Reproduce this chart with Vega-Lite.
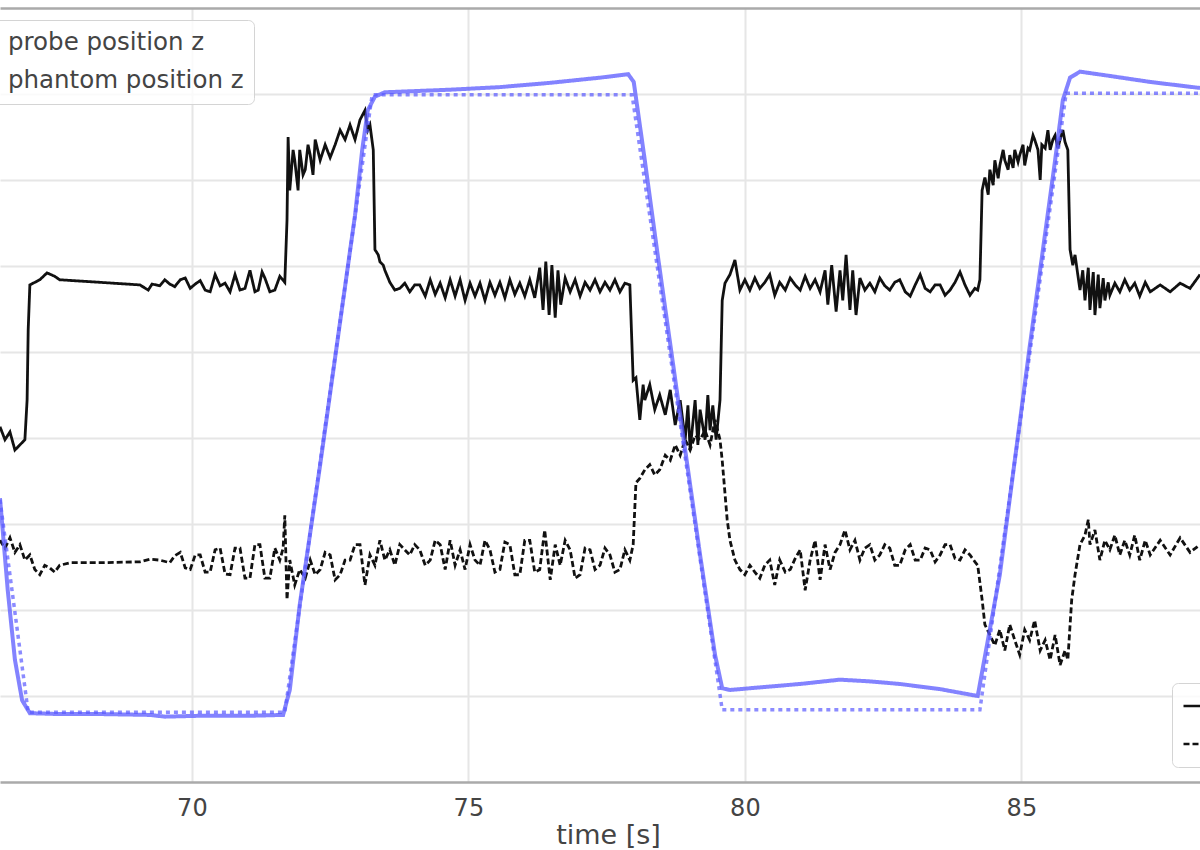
{
  "$schema": "https://vega.github.io/schema/vega-lite/v6.json",
  "width": 1200,
  "height": 774,
  "autosize": {"type": "none"},
  "padding": {"left": 0, "top": 8, "right": 0, "bottom": 68},
  "background": "white",
  "config": {
    "view": {"stroke": null},
    "font": "DejaVu Sans"
  },
  "datasets": {
    "probe_pos": [
      {"t":66.53,"v":3.30},{"t":66.67,"v":2.23},{"t":66.80,"v":1.42},{"t":66.93,"v":0.95},{"t":67.07,"v":0.80},
      {"t":67.61,"v":0.79},{"t":68.34,"v":0.79},{"t":69.24,"v":0.78},{"t":69.51,"v":0.76},{"t":70.15,"v":0.77},
      {"t":71.05,"v":0.77},{"t":71.65,"v":0.78},{"t":71.77,"v":1.07},{"t":71.95,"v":2.06},{"t":72.32,"v":3.69},
      {"t":72.68,"v":5.35},{"t":72.95,"v":6.59},{"t":73.08,"v":7.35},{"t":73.18,"v":7.81},{"t":73.31,"v":7.97},
      {"t":73.49,"v":8.02},{"t":74.67,"v":8.05},{"t":75.57,"v":8.08},{"t":76.48,"v":8.13},{"t":77.38,"v":8.19},
      {"t":77.89,"v":8.23},{"t":77.99,"v":8.14},{"t":78.19,"v":7.23},{"t":78.41,"v":6.19},{"t":78.83,"v":4.27},
      {"t":79.19,"v":2.64},{"t":79.46,"v":1.48},{"t":79.59,"v":1.09},{"t":79.73,"v":1.07},{"t":80.27,"v":1.10},
      {"t":81.00,"v":1.14},{"t":81.72,"v":1.19},{"t":82.26,"v":1.17},{"t":82.80,"v":1.14},{"t":83.53,"v":1.08},
      {"t":84.21,"v":1.00},{"t":84.61,"v":2.41},{"t":85.15,"v":5.06},{"t":85.61,"v":7.23},{"t":85.75,"v":7.93},
      {"t":85.88,"v":8.19},{"t":86.06,"v":8.26},{"t":86.60,"v":8.21},{"t":87.33,"v":8.14},{"t":88.23,"v":8.07}
    ],
    "phantom_pos": [
      {"t":66.53,"v":3.28},{"t":67.04,"v":0.81},{"t":71.68,"v":0.81},{"t":73.26,"v":7.99},{"t":77.96,"v":7.99},
      {"t":79.59,"v":0.84},{"t":84.25,"v":0.84},{"t":85.81,"v":8.01},{"t":88.23,"v":8.01}
    ],
    "probe_force": [
      {"t":66.53,"v":4.13},{"t":66.62,"v":3.98},{"t":66.71,"v":4.07},{"t":66.80,"v":3.86},{"t":66.89,"v":3.92},
      {"t":66.98,"v":3.98},{"t":67.02,"v":4.44},{"t":67.04,"v":5.26},{"t":67.07,"v":5.78},{"t":67.25,"v":5.84},
      {"t":67.38,"v":5.92},{"t":67.52,"v":5.88},{"t":67.61,"v":5.84},{"t":68.34,"v":5.81},{"t":69.06,"v":5.78},
      {"t":69.21,"v":5.72},{"t":69.28,"v":5.79},{"t":69.42,"v":5.77},{"t":69.51,"v":5.84},{"t":69.60,"v":5.79},
      {"t":69.69,"v":5.76},{"t":69.79,"v":5.84},{"t":69.88,"v":5.86},{"t":69.97,"v":5.74},{"t":70.06,"v":5.79},
      {"t":70.15,"v":5.83},{"t":70.24,"v":5.72},{"t":70.33,"v":5.70},{"t":70.42,"v":5.90},{"t":70.51,"v":5.77},
      {"t":70.60,"v":5.80},{"t":70.69,"v":5.70},{"t":70.78,"v":5.90},{"t":70.87,"v":5.72},{"t":70.96,"v":5.74},
      {"t":71.05,"v":5.95},{"t":71.14,"v":5.70},{"t":71.20,"v":5.72},{"t":71.27,"v":5.93},{"t":71.32,"v":5.86},
      {"t":71.41,"v":5.70},{"t":71.50,"v":5.72},{"t":71.59,"v":5.88},{"t":71.68,"v":5.81},{"t":71.72,"v":6.53},
      {"t":71.74,"v":7.50},{"t":71.77,"v":6.88},{"t":71.83,"v":7.35},{"t":71.86,"v":7.23},{"t":71.92,"v":6.88},
      {"t":71.95,"v":7.35},{"t":72.01,"v":7.06},{"t":72.05,"v":7.12},{"t":72.10,"v":7.41},{"t":72.14,"v":7.29},
      {"t":72.19,"v":7.06},{"t":72.23,"v":7.47},{"t":72.32,"v":7.23},{"t":72.41,"v":7.41},{"t":72.50,"v":7.26},
      {"t":72.59,"v":7.41},{"t":72.68,"v":7.58},{"t":72.77,"v":7.47},{"t":72.86,"v":7.64},{"t":72.95,"v":7.47},
      {"t":73.04,"v":7.70},{"t":73.13,"v":7.81},{"t":73.18,"v":7.58},{"t":73.22,"v":7.64},{"t":73.28,"v":7.35},
      {"t":73.31,"v":6.19},{"t":73.37,"v":6.13},{"t":73.40,"v":6.05},{"t":73.46,"v":6.01},{"t":73.49,"v":5.95},
      {"t":73.58,"v":5.81},{"t":73.67,"v":5.72},{"t":73.76,"v":5.74},{"t":73.85,"v":5.80},{"t":73.94,"v":5.70},
      {"t":74.03,"v":5.78},{"t":74.12,"v":5.78},{"t":74.22,"v":5.65},{"t":74.31,"v":5.84},{"t":74.40,"v":5.67},
      {"t":74.49,"v":5.80},{"t":74.58,"v":5.63},{"t":74.67,"v":5.84},{"t":74.76,"v":5.65},{"t":74.85,"v":5.84},
      {"t":74.94,"v":5.60},{"t":75.03,"v":5.80},{"t":75.12,"v":5.65},{"t":75.21,"v":5.80},{"t":75.30,"v":5.60},
      {"t":75.39,"v":5.81},{"t":75.48,"v":5.66},{"t":75.57,"v":5.81},{"t":75.66,"v":5.63},{"t":75.75,"v":5.84},
      {"t":75.84,"v":5.67},{"t":75.93,"v":5.80},{"t":76.02,"v":5.65},{"t":76.11,"v":5.84},{"t":76.20,"v":5.63},
      {"t":76.29,"v":5.98},{"t":76.35,"v":5.49},{"t":76.40,"v":6.05},{"t":76.46,"v":5.43},{"t":76.51,"v":6.01},
      {"t":76.57,"v":5.40},{"t":76.62,"v":5.95},{"t":76.67,"v":5.55},{"t":76.75,"v":5.86},{"t":76.84,"v":5.70},
      {"t":76.93,"v":5.84},{"t":77.02,"v":5.65},{"t":77.11,"v":5.81},{"t":77.20,"v":5.72},{"t":77.29,"v":5.84},
      {"t":77.38,"v":5.70},{"t":77.47,"v":5.81},{"t":77.56,"v":5.72},{"t":77.65,"v":5.84},{"t":77.74,"v":5.70},
      {"t":77.83,"v":5.80},{"t":77.92,"v":5.78},{"t":77.98,"v":4.67},{"t":78.03,"v":4.70},{"t":78.10,"v":4.21},
      {"t":78.16,"v":4.62},{"t":78.19,"v":4.44},{"t":78.28,"v":4.62},{"t":78.37,"v":4.33},{"t":78.46,"v":4.50},
      {"t":78.56,"v":4.27},{"t":78.65,"v":4.56},{"t":78.74,"v":4.15},{"t":78.83,"v":4.44},{"t":78.92,"v":3.98},
      {"t":78.97,"v":4.38},{"t":79.01,"v":3.86},{"t":79.10,"v":4.44},{"t":79.15,"v":3.92},{"t":79.19,"v":4.33},
      {"t":79.28,"v":3.98},{"t":79.33,"v":4.50},{"t":79.37,"v":4.09},{"t":79.42,"v":4.38},{"t":79.48,"v":3.98},
      {"t":79.55,"v":4.44},{"t":79.59,"v":5.60},{"t":79.64,"v":5.80},{"t":79.73,"v":5.90},{"t":79.82,"v":6.07},
      {"t":79.91,"v":5.72},{"t":80.00,"v":5.84},{"t":80.09,"v":5.72},{"t":80.18,"v":5.86},{"t":80.27,"v":5.74},
      {"t":80.36,"v":5.81},{"t":80.45,"v":5.90},{"t":80.54,"v":5.66},{"t":80.63,"v":5.81},{"t":80.73,"v":5.72},
      {"t":80.82,"v":5.86},{"t":80.91,"v":5.78},{"t":81.00,"v":5.72},{"t":81.09,"v":5.88},{"t":81.18,"v":5.74},
      {"t":81.27,"v":5.84},{"t":81.36,"v":5.70},{"t":81.45,"v":5.95},{"t":81.50,"v":5.55},{"t":81.57,"v":6.01},
      {"t":81.65,"v":5.47},{"t":81.72,"v":5.95},{"t":81.77,"v":5.60},{"t":81.83,"v":6.13},{"t":81.90,"v":5.49},
      {"t":81.95,"v":5.95},{"t":82.01,"v":5.43},{"t":82.08,"v":5.86},{"t":82.17,"v":5.72},{"t":82.26,"v":5.80},
      {"t":82.35,"v":5.70},{"t":82.44,"v":5.86},{"t":82.53,"v":5.77},{"t":82.62,"v":5.72},{"t":82.71,"v":5.81},
      {"t":82.80,"v":5.84},{"t":82.90,"v":5.70},{"t":82.99,"v":5.65},{"t":83.08,"v":5.78},{"t":83.17,"v":5.90},
      {"t":83.26,"v":5.74},{"t":83.35,"v":5.70},{"t":83.44,"v":5.78},{"t":83.53,"v":5.78},{"t":83.62,"v":5.66},
      {"t":83.71,"v":5.72},{"t":83.80,"v":5.81},{"t":83.89,"v":5.93},{"t":83.98,"v":5.78},{"t":84.07,"v":5.66},
      {"t":84.16,"v":5.74},{"t":84.21,"v":5.72},{"t":84.25,"v":5.84},{"t":84.29,"v":6.88},{"t":84.34,"v":7.03},
      {"t":84.40,"v":6.83},{"t":84.43,"v":7.12},{"t":84.49,"v":6.94},{"t":84.52,"v":7.23},{"t":84.58,"v":7.02},
      {"t":84.61,"v":7.17},{"t":84.67,"v":7.35},{"t":84.70,"v":7.23},{"t":84.76,"v":7.12},{"t":84.79,"v":7.29},
      {"t":84.85,"v":7.14},{"t":84.88,"v":7.35},{"t":84.94,"v":7.21},{"t":84.97,"v":7.29},{"t":85.03,"v":7.41},
      {"t":85.06,"v":7.17},{"t":85.12,"v":7.37},{"t":85.15,"v":7.35},{"t":85.21,"v":7.52},{"t":85.24,"v":7.47},
      {"t":85.30,"v":7.35},{"t":85.34,"v":7.00},{"t":85.37,"v":7.41},{"t":85.43,"v":7.37},{"t":85.48,"v":7.58},
      {"t":85.52,"v":7.35},{"t":85.57,"v":7.47},{"t":85.61,"v":7.52},{"t":85.66,"v":7.37},{"t":85.70,"v":7.47},
      {"t":85.75,"v":7.58},{"t":85.79,"v":7.44},{"t":85.84,"v":7.35},{"t":85.88,"v":6.19},{"t":85.93,"v":6.01},
      {"t":85.97,"v":6.13},{"t":86.02,"v":5.90},{"t":86.06,"v":5.72},{"t":86.11,"v":5.95},{"t":86.15,"v":5.60},
      {"t":86.21,"v":5.98},{"t":86.24,"v":5.49},{"t":86.30,"v":5.93},{"t":86.33,"v":5.43},{"t":86.39,"v":5.90},
      {"t":86.42,"v":5.51},{"t":86.48,"v":5.86},{"t":86.51,"v":5.60},{"t":86.57,"v":5.81},{"t":86.60,"v":5.66},
      {"t":86.69,"v":5.80},{"t":86.78,"v":5.70},{"t":86.87,"v":5.84},{"t":86.96,"v":5.72},{"t":87.05,"v":5.80},
      {"t":87.14,"v":5.65},{"t":87.24,"v":5.81},{"t":87.33,"v":5.70},{"t":87.51,"v":5.78},{"t":87.69,"v":5.70},
      {"t":87.87,"v":5.80},{"t":88.05,"v":5.74},{"t":88.23,"v":5.90}
    ],
    "phantom_force": [
      {"t":66.53,"v":2.81},{"t":66.62,"v":2.72},{"t":66.71,"v":2.84},{"t":66.80,"v":2.67},{"t":66.89,"v":2.76},
      {"t":66.98,"v":2.58},{"t":67.07,"v":2.64},{"t":67.16,"v":2.47},{"t":67.25,"v":2.41},{"t":67.34,"v":2.52},
      {"t":67.43,"v":2.49},{"t":67.52,"v":2.44},{"t":67.61,"v":2.52},{"t":67.80,"v":2.55},{"t":68.34,"v":2.55},
      {"t":69.06,"v":2.56},{"t":69.24,"v":2.59},{"t":69.42,"v":2.58},{"t":69.60,"v":2.55},{"t":69.69,"v":2.63},
      {"t":69.79,"v":2.67},{"t":69.88,"v":2.49},{"t":69.97,"v":2.47},{"t":70.06,"v":2.64},{"t":70.15,"v":2.64},
      {"t":70.24,"v":2.44},{"t":70.33,"v":2.44},{"t":70.42,"v":2.70},{"t":70.51,"v":2.72},{"t":70.60,"v":2.42},
      {"t":70.69,"v":2.41},{"t":70.78,"v":2.72},{"t":70.87,"v":2.72},{"t":70.96,"v":2.37},{"t":71.05,"v":2.37},
      {"t":71.14,"v":2.76},{"t":71.23,"v":2.76},{"t":71.32,"v":2.37},{"t":71.41,"v":2.37},{"t":71.50,"v":2.72},
      {"t":71.59,"v":2.58},{"t":71.65,"v":2.72},{"t":71.68,"v":3.10},{"t":71.72,"v":2.12},{"t":71.77,"v":2.58},
      {"t":71.86,"v":2.29},{"t":71.95,"v":2.47},{"t":72.05,"v":2.37},{"t":72.14,"v":2.58},{"t":72.23,"v":2.41},
      {"t":72.32,"v":2.47},{"t":72.41,"v":2.67},{"t":72.50,"v":2.64},{"t":72.59,"v":2.35},{"t":72.68,"v":2.41},
      {"t":72.77,"v":2.58},{"t":72.86,"v":2.58},{"t":72.95,"v":2.76},{"t":73.04,"v":2.76},{"t":73.13,"v":2.29},
      {"t":73.22,"v":2.64},{"t":73.31,"v":2.52},{"t":73.40,"v":2.81},{"t":73.49,"v":2.58},{"t":73.58,"v":2.70},
      {"t":73.67,"v":2.52},{"t":73.76,"v":2.76},{"t":73.85,"v":2.70},{"t":73.94,"v":2.64},{"t":74.03,"v":2.76},
      {"t":74.12,"v":2.70},{"t":74.22,"v":2.52},{"t":74.31,"v":2.58},{"t":74.40,"v":2.81},{"t":74.49,"v":2.76},
      {"t":74.58,"v":2.47},{"t":74.67,"v":2.81},{"t":74.76,"v":2.52},{"t":74.85,"v":2.70},{"t":74.94,"v":2.47},
      {"t":75.03,"v":2.76},{"t":75.12,"v":2.58},{"t":75.21,"v":2.52},{"t":75.30,"v":2.81},{"t":75.39,"v":2.70},
      {"t":75.48,"v":2.44},{"t":75.57,"v":2.47},{"t":75.66,"v":2.79},{"t":75.75,"v":2.76},{"t":75.84,"v":2.41},
      {"t":75.93,"v":2.41},{"t":76.02,"v":2.81},{"t":76.11,"v":2.81},{"t":76.20,"v":2.44},{"t":76.29,"v":2.47},
      {"t":76.38,"v":2.93},{"t":76.48,"v":2.35},{"t":76.57,"v":2.76},{"t":76.66,"v":2.52},{"t":76.75,"v":2.81},
      {"t":76.84,"v":2.70},{"t":76.93,"v":2.37},{"t":77.02,"v":2.41},{"t":77.11,"v":2.72},{"t":77.20,"v":2.70},
      {"t":77.29,"v":2.47},{"t":77.38,"v":2.52},{"t":77.47,"v":2.72},{"t":77.56,"v":2.64},{"t":77.65,"v":2.44},
      {"t":77.74,"v":2.47},{"t":77.83,"v":2.70},{"t":77.92,"v":2.58},{"t":77.98,"v":2.76},{"t":78.03,"v":3.48},
      {"t":78.10,"v":3.53},{"t":78.19,"v":3.63},{"t":78.28,"v":3.69},{"t":78.37,"v":3.57},{"t":78.46,"v":3.63},
      {"t":78.56,"v":3.80},{"t":78.65,"v":3.74},{"t":78.74,"v":3.92},{"t":78.83,"v":3.80},{"t":78.92,"v":3.98},
      {"t":79.01,"v":3.86},{"t":79.10,"v":4.03},{"t":79.19,"v":3.98},{"t":79.28,"v":4.09},{"t":79.37,"v":3.92},
      {"t":79.46,"v":4.21},{"t":79.55,"v":3.98},{"t":79.59,"v":3.74},{"t":79.62,"v":3.51},{"t":79.68,"v":3.05},
      {"t":79.73,"v":2.81},{"t":79.82,"v":2.58},{"t":79.91,"v":2.47},{"t":80.00,"v":2.41},{"t":80.09,"v":2.52},
      {"t":80.18,"v":2.44},{"t":80.27,"v":2.37},{"t":80.36,"v":2.52},{"t":80.45,"v":2.58},{"t":80.54,"v":2.29},
      {"t":80.63,"v":2.58},{"t":80.73,"v":2.44},{"t":80.82,"v":2.47},{"t":80.91,"v":2.60},{"t":81.00,"v":2.70},
      {"t":81.09,"v":2.23},{"t":81.18,"v":2.58},{"t":81.27,"v":2.81},{"t":81.36,"v":2.35},{"t":81.45,"v":2.76},
      {"t":81.54,"v":2.47},{"t":81.63,"v":2.67},{"t":81.72,"v":2.76},{"t":81.81,"v":2.93},{"t":81.90,"v":2.70},
      {"t":81.99,"v":2.81},{"t":82.08,"v":2.58},{"t":82.17,"v":2.72},{"t":82.26,"v":2.76},{"t":82.35,"v":2.58},
      {"t":82.44,"v":2.64},{"t":82.53,"v":2.76},{"t":82.62,"v":2.72},{"t":82.71,"v":2.52},{"t":82.80,"v":2.52},
      {"t":82.90,"v":2.70},{"t":82.99,"v":2.76},{"t":83.08,"v":2.58},{"t":83.17,"v":2.58},{"t":83.26,"v":2.72},
      {"t":83.35,"v":2.70},{"t":83.44,"v":2.56},{"t":83.53,"v":2.64},{"t":83.62,"v":2.76},{"t":83.71,"v":2.76},
      {"t":83.80,"v":2.60},{"t":83.89,"v":2.58},{"t":83.98,"v":2.70},{"t":84.07,"v":2.64},{"t":84.16,"v":2.56},
      {"t":84.21,"v":2.52},{"t":84.29,"v":2.12},{"t":84.34,"v":1.83},{"t":84.43,"v":1.71},{"t":84.52,"v":1.59},
      {"t":84.61,"v":1.77},{"t":84.70,"v":1.53},{"t":84.79,"v":1.83},{"t":84.88,"v":1.65},{"t":84.97,"v":1.48},
      {"t":85.06,"v":1.77},{"t":85.15,"v":1.65},{"t":85.24,"v":1.88},{"t":85.34,"v":1.53},{"t":85.43,"v":1.65},
      {"t":85.52,"v":1.42},{"t":85.61,"v":1.71},{"t":85.70,"v":1.36},{"t":85.79,"v":1.53},{"t":85.84,"v":1.42},
      {"t":85.91,"v":2.12},{"t":85.97,"v":2.41},{"t":86.06,"v":2.76},{"t":86.15,"v":2.87},{"t":86.21,"v":3.05},
      {"t":86.24,"v":2.76},{"t":86.33,"v":2.93},{"t":86.42,"v":2.58},{"t":86.51,"v":2.81},{"t":86.60,"v":2.70},
      {"t":86.69,"v":2.87},{"t":86.78,"v":2.64},{"t":86.87,"v":2.81},{"t":86.96,"v":2.64},{"t":87.05,"v":2.87},
      {"t":87.14,"v":2.58},{"t":87.24,"v":2.81},{"t":87.33,"v":2.64},{"t":87.51,"v":2.81},{"t":87.69,"v":2.64},
      {"t":87.87,"v":2.84},{"t":88.05,"v":2.67},{"t":88.23,"v":2.76}
    ]
  },
  "encoding": {
    "x": {
      "field": "t",
      "type": "quantitative",
      "scale": {"domain": [66.53, 88.23], "nice": false, "zero": false},
      "axis": {
        "values": [70, 75, 80, 85],
        "grid": true,
        "gridColor": "#e6e6e6",
        "gridWidth": 2,
        "domain": false,
        "ticks": false,
        "labelFontSize": 24,
        "labelColor": "#444444",
        "labelPadding": 14,
        "title": "time [s]",
        "titleFontSize": 27,
        "titleFontWeight": "normal",
        "titleColor": "#444444",
        "titlePadding": 2,
        "titleX": 608
      }
    },
    "y": {
      "field": "v",
      "type": "quantitative",
      "scale": {"domain": [0, 9], "nice": false, "zero": false},
      "axis": {
        "values": [0, 1, 2, 3, 4, 5, 6, 7, 8, 9],
        "grid": true,
        "gridColor": {"condition": {"test": "datum.value == 0 || datum.value == 9", "value": "#aaaaaa"}, "value": "#e6e6e6"},
        "gridWidth": {"condition": {"test": "datum.value == 0 || datum.value == 9", "value": 2.5}, "value": 2},
        "labels": false,
        "ticks": false,
        "domain": false,
        "title": null
      }
    }
  },
  "layer": [
    {
      "layer": [
        {
          "data": {"name": "probe_force"},
          "mark": {"type": "line", "color": "#111111", "strokeWidth": 2.8, "clip": true},
          "encoding": {
            "strokeDash": {
              "datum": "probe force z",
              "type": "nominal",
              "scale": {"domain": ["probe force z", "phantom force z"], "range": [[1, 0], [6, 3]]},
              "legend": {
                "title": null,
                "orient": "none",
                "legendX": 1172,
                "legendY": 675,
                "padding": 10,
                "fillColor": "rgba(255,255,255,0.8)",
                "strokeColor": "#d4d4d4",
                "cornerRadius": 6,
                "symbolType": "stroke",
                "symbolSize": 2401,
                "symbolStrokeColor": "#333333",
                "symbolStrokeWidth": 2.5,
                "labelFontSize": 24.5,
                "labelColor": "#444444",
                "labelLimit": 400,
                "labelOffset": 20,
                "clipHeight": 26,
                "rowPadding": 12
              }
            }
          }
        },
        {
          "data": {"name": "phantom_force"},
          "mark": {"type": "line", "color": "#111111", "strokeWidth": 2.8, "clip": true},
          "encoding": {
            "strokeDash": {
              "datum": "phantom force z",
              "type": "nominal",
              "scale": {"domain": ["probe force z", "phantom force z"], "range": [[1, 0], [6, 3]]}
            }
          }
        }
      ]
    },
    {
      "layer": [
        {
          "data": {"name": "probe_pos"},
          "mark": {"type": "line", "color": "#5a5aff", "opacity": 0.75, "strokeWidth": 4, "clip": true},
          "encoding": {
            "strokeDash": {
              "datum": "probe position z",
              "type": "nominal",
              "scale": {"domain": ["probe position z", "phantom position z"], "range": [[1, 0], [4, 4]]},
              "legend": {
                "title": null,
                "orient": "none",
                "legendX": -74,
                "legendY": 12,
                "padding": 10,
                "fillColor": "rgba(255,255,255,0.8)",
                "strokeColor": "#d4d4d4",
                "cornerRadius": 6,
                "symbolType": "stroke",
                "symbolSize": 2401,
                "symbolStrokeColor": "#5a5aff",
                "symbolStrokeWidth": 3,
                "labelFontSize": 24.5,
                "labelColor": "#444444",
                "labelLimit": 400,
                "labelOffset": 20,
                "clipHeight": 26,
                "rowPadding": 12
              }
            }
          }
        },
        {
          "data": {"name": "phantom_pos"},
          "mark": {"type": "line", "color": "#5a5aff", "opacity": 0.7, "strokeWidth": 3.5, "clip": true},
          "encoding": {
            "strokeDash": {
              "datum": "phantom position z",
              "type": "nominal",
              "scale": {"domain": ["probe position z", "phantom position z"], "range": [[1, 0], [4, 4]]}
            }
          }
        }
      ]
    }
  ],
  "resolve": {"scale": {"strokeDash": "independent"}}
}
